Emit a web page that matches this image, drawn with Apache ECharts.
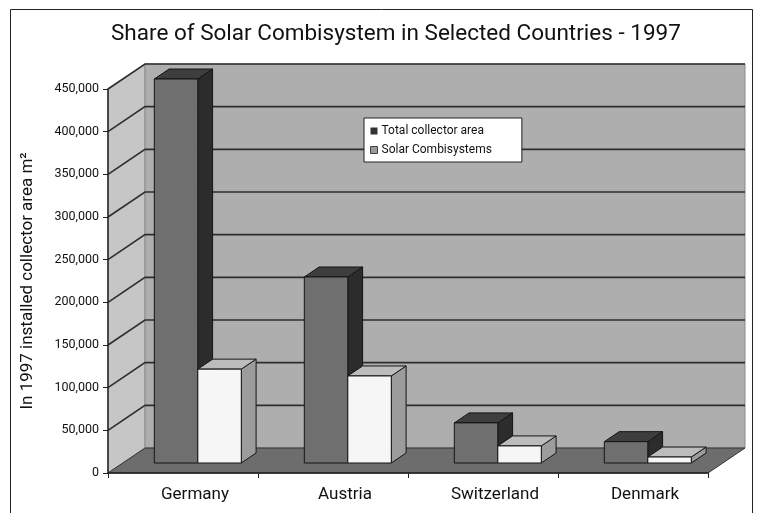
<!DOCTYPE html>
<html>
<head>
<meta charset="utf-8">
<title>Share of Solar Combisystem</title>
<script src="https://cdn.jsdelivr.net/npm/echarts@6/dist/echarts.min.js"></script>
<style>
  html, body { margin: 0; padding: 0; background: #fff; }
  #main { width: 760px; height: 513px; }
</style>
</head>
<body>
<div id="main"></div>
<script>
const countries = ['Germany', 'Austria', 'Switzerland', 'Denmark'];
const totalArea = [450000, 218000, 47000, 25000];
const combiArea = [110000, 102000, 20000, 7000];
const gridValues = [50000, 100000, 150000, 200000, 250000, 300000, 350000, 400000, 450000];

// depth of the fake 3d box (pixels)
const DX = 37, DY = -25;
const barFront = 0.4, barBack = 0.8;

const faces = [
  { front: '#6f6f6f', top: '#3e3e3e', side: '#2c2c2c' },
  { front: '#f6f6f6', top: '#bcbcbc', side: '#9c9c9c' }
];

function renderBar(s) {
  return function (params, api) {
    let i = api.value(0);
    let v = api.value(1);
    let base = api.coord([i, 0]);
    let top = api.coord([i, v]);
    let band = api.size([1, 0])[0];
    let w = band * 0.29;
    let fx = DX * barFront, fy = DY * barFront;
    let bx = DX * (barBack - barFront), by = DY * (barBack - barFront);
    let xl = base[0] - w + s * w + fx;
    let yb = base[1] + fy;
    let yt = top[1] + fy;
    let c = faces[s];
    let line = { stroke: '#151515', lineWidth: 1, lineJoin: 'round' };
    return {
      type: 'group',
      children: [
        { type: 'polygon', shape: { points: [[xl + w, yt], [xl + w + bx, yt + by], [xl + w + bx, yb + by], [xl + w, yb]] },
          style: Object.assign({ fill: c.side }, line) },
        { type: 'polygon', shape: { points: [[xl, yt], [xl + w, yt], [xl + w + bx, yt + by], [xl + bx, yt + by]] },
          style: Object.assign({ fill: c.top }, line) },
        { type: 'rect', shape: { x: xl, y: yt, width: w, height: yb - yt },
          style: Object.assign({ fill: c.front }, line) }
      ]
    };
  };
}

let option = {
  animation: false,
  backgroundColor: '#fff',
  title: {
    text: 'Share of Solar Combisystem in Selected Countries - 1997',
    left: 106,
    top: 18,
    textStyle: { fontFamily: 'Roboto', fontWeight: 'normal', fontSize: 22.5, color: '#111' }
  },
  legend: {
    orient: 'vertical',
    left: 364,
    top: 118,
    width: 156,
    padding: [7, 30, 6, 6],
    itemGap: 7,
    itemWidth: 7,
    itemHeight: 7,
    backgroundColor: '#fff',
    borderColor: '#222',
    borderWidth: 1,
    textStyle: { fontFamily: 'Roboto', fontSize: 12, color: '#111', padding: [0, 0, 0, -1] },
    data: [
      { name: 'Total collector area', icon: 'rect', itemStyle: { color: '#333' } },
      { name: 'Solar Combisystems', icon: 'rect', itemStyle: { color: '#9a9a9a', borderColor: '#444', borderWidth: 1 } }
    ]
  },
  graphic: [
    { type: 'rect', shape: { x: 10.5, y: 9.5, width: 742, height: 520 }, style: { fill: null, stroke: '#222', lineWidth: 1 }, z: 100 }
  ],
  grid: { left: 108, right: 52, top: 89, bottom: 40 },
  xAxis: {
    type: 'category',
    data: countries,
    z: 10,
    axisLine: { lineStyle: { color: '#222', width: 1.5 } },
    axisTick: { show: true, length: 5, lineStyle: { color: '#222' } },
    axisLabel: { margin: 13, fontFamily: 'Roboto', fontSize: 17, color: '#111', padding: [0, 0, 0, 24] }
  },
  yAxis: {
    type: 'value',
    min: 0,
    max: 450000,
    interval: 50000,
    z: 10,
    name: 'In 1997 installed collector area m²',
    nameLocation: 'middle',
    nameGap: 72,
    nameTextStyle: { fontFamily: 'Roboto', fontSize: 17, color: '#111' },
    axisLine: { show: true, lineStyle: { color: '#222', width: 1.5 } },
    axisTick: { show: true, length: 5, lineStyle: { color: '#222' } },
    splitLine: { show: false },
    axisLabel: {
      margin: 9,
      fontFamily: 'Roboto',
      fontSize: 12.5,
      color: '#111',
      formatter: function (v) { return v.toLocaleString('en-US'); }
    }
  },
  series: [
    {
      name: 'walls',
      type: 'custom',
      z: 1,
      silent: true,
      data: [0],
      renderItem: function (params, api) {
        let r = params.coordSys;
        let x0 = r.x, y0 = r.y, w = r.width, h = r.height;
        return {
          type: 'group',
          children: [
            { type: 'polygon', shape: { points: [[x0, y0], [x0 + DX, y0 + DY], [x0 + DX, y0 + h + DY], [x0, y0 + h]] },
              style: { fill: '#c6c6c6', stroke: '#999', lineWidth: 1 } },
            { type: 'rect', shape: { x: x0 + DX, y: y0 + DY, width: w, height: h },
              style: { fill: '#aeaeae', stroke: '#8a8a8a', lineWidth: 1 } },
            { type: 'polygon', shape: { points: [[x0, y0 + h], [x0 + w, y0 + h], [x0 + w + DX, y0 + h + DY], [x0 + DX, y0 + h + DY]] },
              style: { fill: '#6d6d6d', stroke: '#333', lineWidth: 1 } }
          ]
        };
      }
    },
    {
      name: 'gridlines',
      type: 'custom',
      z: 2,
      silent: true,
      data: gridValues.map(v => [0, v]),
      renderItem: function (params, api) {
        let r = params.coordSys;
        let y = api.coord([0, api.value(1)])[1];
        return {
          type: 'polyline',
          shape: { points: [[r.x, y], [r.x + DX, y + DY], [r.x + DX + r.width, y + DY]] },
          style: { fill: null, stroke: '#2e2e2e', lineWidth: 1.6 }
        };
      }
    },
    {
      name: 'Total collector area',
      type: 'custom',
      z: 3,
      itemStyle: { color: '#333' },
      data: totalArea.map((v, i) => [i, v]),
      renderItem: renderBar(0)
    },
    {
      name: 'Solar Combisystems',
      type: 'custom',
      z: 4,
      itemStyle: { color: '#9a9a9a' },
      data: combiArea.map((v, i) => [i, v]),
      renderItem: renderBar(1)
    }
  ]
};

let myChart = echarts.init(document.getElementById('main'));
myChart.setOption(option);
</script>
</body>
</html>
